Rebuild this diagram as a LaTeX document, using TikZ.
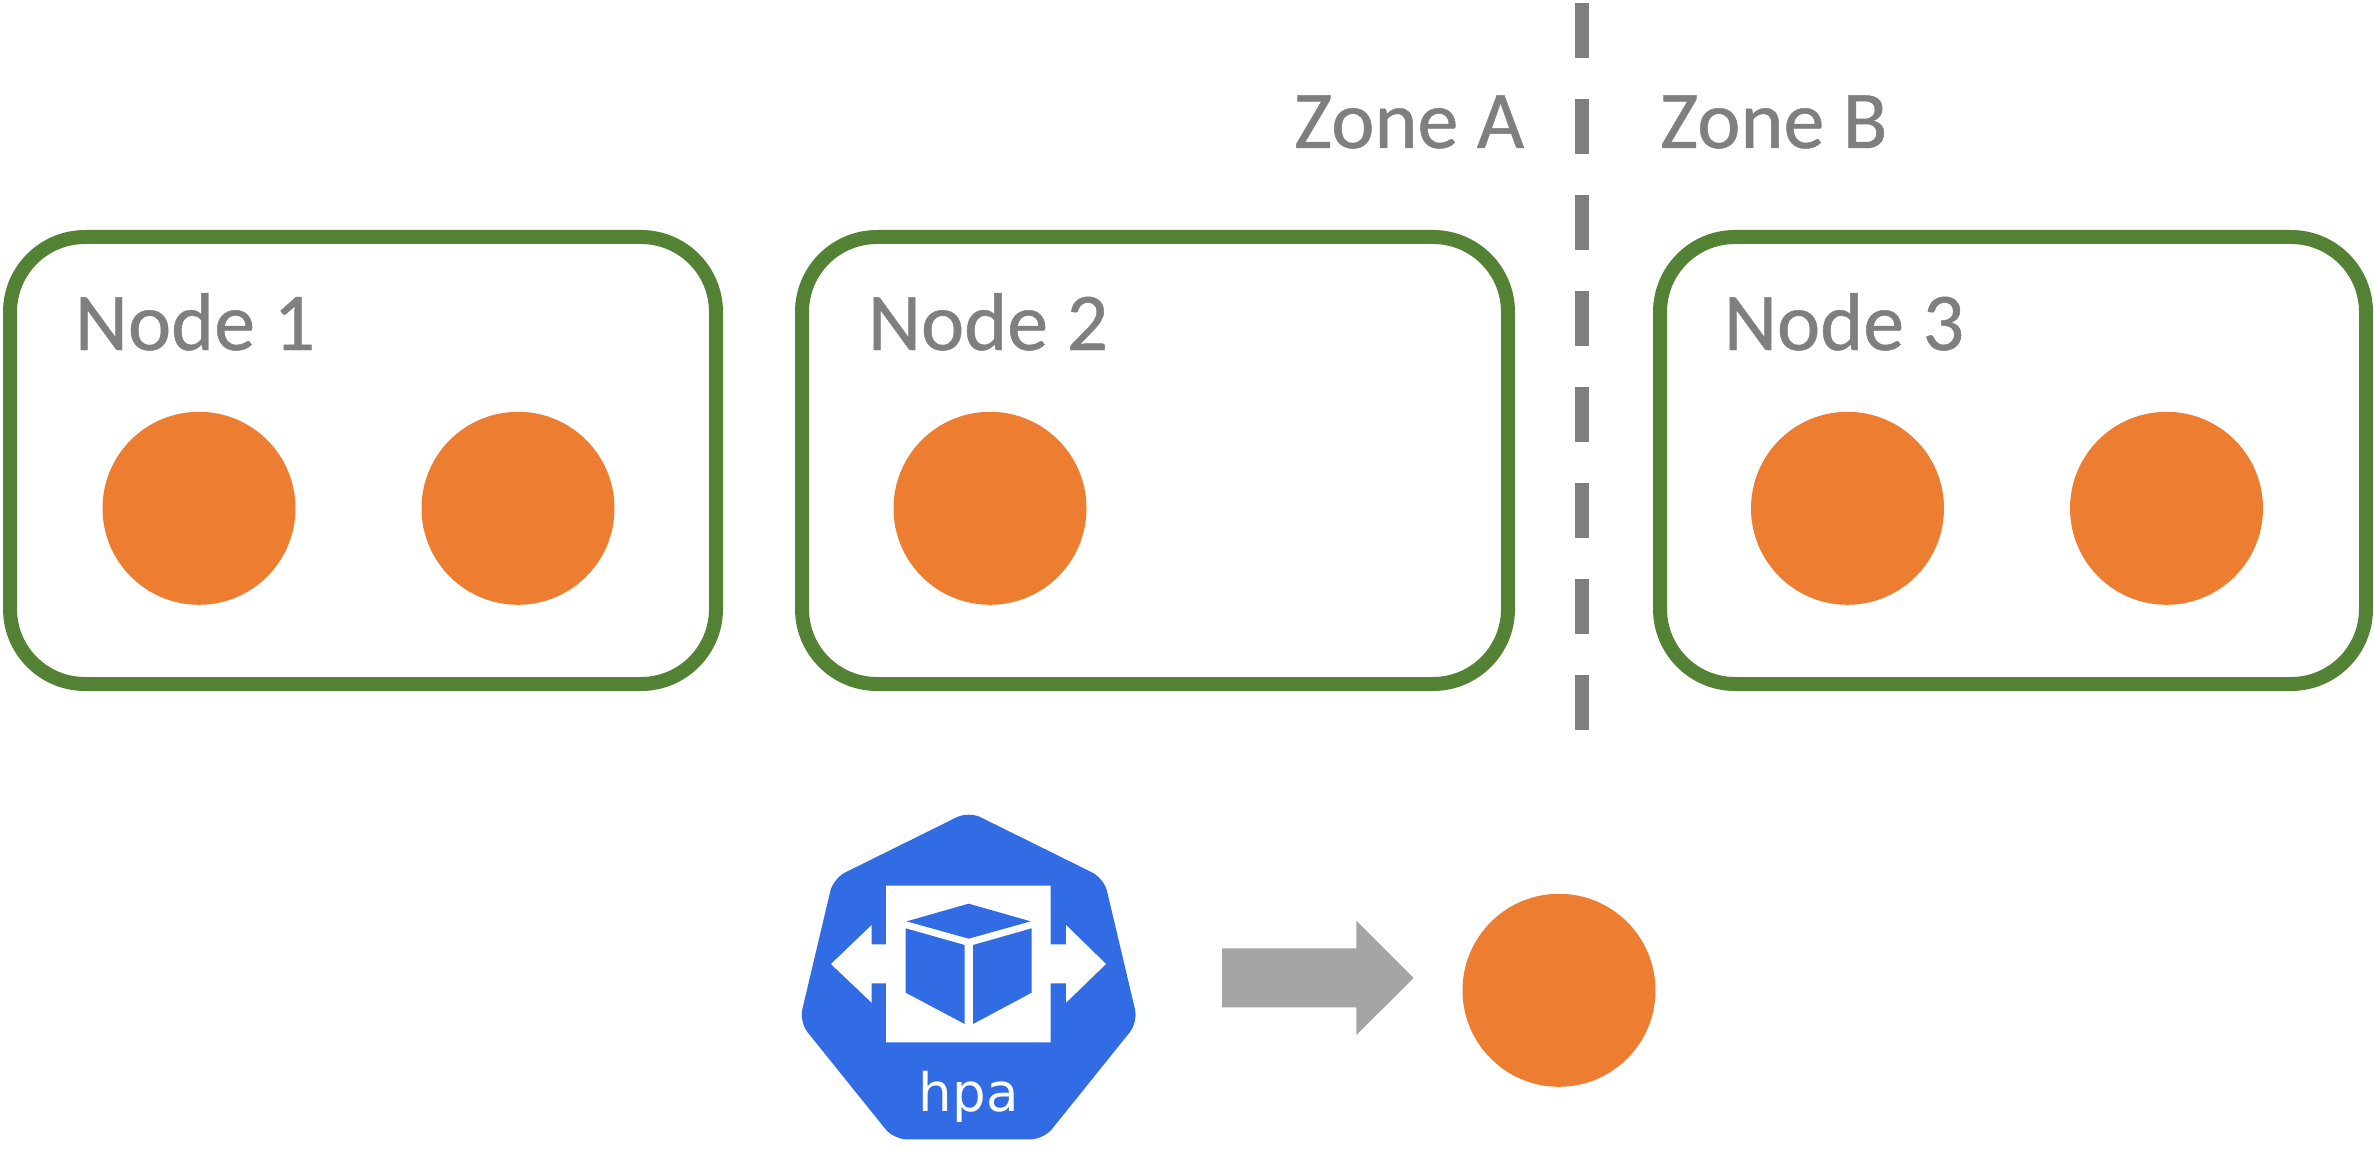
\documentclass[tikz,border=0pt]{standalone}
\usepackage{fontspec}
\setmainfont{Carlito}
\newfontfamily\labfont[FakeBold=0.6]{Carlito}
\newfontfamily\hpafont{DejaVu Sans}
\definecolor{nodegreen}{HTML}{548235}
\definecolor{podorange}{HTML}{ED7D31}
\definecolor{labelgrey}{HTML}{7F7F7F}
\definecolor{arrowgrey}{HTML}{A5A5A5}
\definecolor{k8sblue}{HTML}{326CE5}
\tikzset{
  nodebox/.style={draw=nodegreen,line width=14pt,rounded corners=75pt,minimum width=706pt,minimum height=447pt,inner sep=0pt,outer sep=0pt},
  pod/.style={circle,fill=podorange,minimum size=193pt,inner sep=0pt,outer sep=0pt},
  lab/.style={anchor=base west,inner sep=0pt,outer sep=0pt,text=labelgrey,font=\labfont\fontsize{82}{98}\selectfont},
  zoneline/.style={draw=labelgrey,line width=14pt,dash pattern=on 55pt off 41pt},
}
\begin{document}
\begin{tikzpicture}[x=1pt,y=-1pt]
\useasboundingbox (0,0) rectangle (2374,1150);
% zone divider
\coordinate (zt) at (1582,3);
\coordinate (zb) at (1582,730);
\draw[zoneline] (zt) -- (zb);
\node[lab] (za) at (1294,148) {Zone A};
\node[lab] (zbl) at (1660,148) {Zone B};
% node boxes
\node[nodebox] (n1) at (363,460.5) {};
\node[nodebox] (n2) at (1155,460.5) {};
\node[nodebox] (n3) at (2013,460.5) {};
\node[lab] (l1) at (75,350) {Node 1};
\node[lab] (l2) at (868,350) {Node 2};
\node[lab] (l3) at (1724,350) {Node 3};
% pods
\node[pod] (p1) at (199,508.3) {};
\node[pod] (p2) at (518,508.3) {};
\node[pod] (p3) at (990,508.3) {};
\node[pod] (p4) at (1847.5,508.3) {};
\node[pod] (p5) at (2166.5,508.3) {};
\node[pod] (p6) at (1559,990.3) {};
% block arrow
\fill[arrowgrey] (1222,948.3) -- (1356.3,948.3) -- (1356.3,920.7) -- (1413.7,978) -- (1356.3,1035) -- (1356.3,1007.3) -- (1222,1007.3) -- cycle;
% hpa icon
\begin{scope}[shift={(780,800)},x=0.33333pt,y=-0.33333pt]
\fill[k8sblue,rounded corners=13pt] (566,34) -- (972,235) -- (1074,666) -- (791,1018) -- (341,1018) -- (58,666) -- (160,235) -- cycle;
\fill[white] (318,257) -- (812,257) -- (812,433) -- (858,433) -- (858,375) -- (978,492) -- (858,608) -- (858,550) -- (812,550) -- (812,727) -- (318,727) -- (318,550) -- (275,550) -- (275,608) -- (153,492) -- (275,375) -- (275,433) -- (318,433) -- cycle;
\fill[k8sblue] (566,311) -- (752,364) -- (566,416) -- (380,364) -- cycle;
\fill[k8sblue] (377,385) -- (554,435) -- (554,672) -- (377,578) -- cycle;
\fill[k8sblue] (755,385) -- (579,435) -- (579,672) -- (755,578) -- cycle;
\node[anchor=base,inner sep=0pt,outer sep=0pt,text=white,font=\hpafont\fontsize{53}{63}\selectfont] (hpa) at (566,935) {hpa};
\end{scope}
\end{tikzpicture}
\end{document}
